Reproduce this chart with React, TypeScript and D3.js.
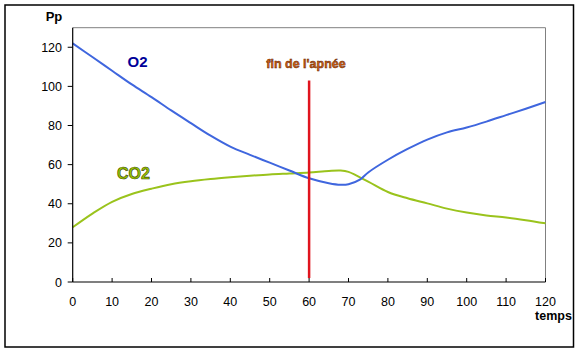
import React from "react";
import * as d3 from "d3";

const timeO2 = [0, 5, 10, 15, 20, 25, 30, 35, 40, 45, 50, 55, 60, 65, 68, 70, 73, 75, 80, 85, 90, 95, 100, 105, 110, 115, 120];
const valuesO2 = [122, 115, 108, 101, 94.5, 87.7, 81.2, 74.8, 69.2, 65, 61, 57, 53, 50.5, 49.7, 50, 52.5, 56, 62.5, 68, 72.8, 76.5, 79, 82, 85.3, 88.6, 92];
const timeCO2 = [0, 5, 10, 15, 20, 25, 30, 35, 40, 45, 50, 55, 60, 65, 68, 70, 75, 80, 85, 90, 95, 100, 105, 110, 115, 120];
const valuesCO2 = [28, 35, 41, 45, 47.7, 50, 51.5, 52.6, 53.5, 54.3, 55, 55.5, 56, 56.8, 57, 56.3, 51.3, 46, 42.8, 40.2, 37.5, 35.5, 34, 33, 31.6, 30];
const xTicks = [0, 10, 20, 30, 40, 50, 60, 70, 80, 90, 100, 110, 120];
const yTicks = [0, 20, 40, 60, 80, 100, 120];
const apneaEnd = 60;
const apneaLine = [2, 103];

export default function App() {
  const W = 581, H = 353;
  const left = 72.7, right = 545.5, top = 27.7, bottom = 282;
  const x = d3.scaleLinear().domain([0, 120]).range([left, right]);
  const y = d3.scaleLinear().domain([0, 130]).range([bottom, top]);
  const line = d3.line<[number, number]>().x(d => x(d[0])).y(d => y(d[1])).curve(d3.curveCatmullRom.alpha(0.5));
  const o2 = line(timeO2.map((t, i) => [t, valuesO2[i]]));
  const co2 = line(timeCO2.map((t, i) => [t, valuesCO2[i]]));
  const font = "Arial, 'Liberation Sans', sans-serif";
  return (
    <svg width={W} height={H} style={{ position: "absolute", left: 0, top: 0 }} fontFamily={font}>
      <rect x={0} y={0} width={W} height={H} fill="#fff" />
      <rect x={5} y={5} width={568.5} height={342} fill="none" stroke="#000" strokeWidth={1.5} />
      <line x1={left} x2={right} y1={top} y2={top} stroke="#808080" strokeWidth={1} />
      <line x1={right} x2={right} y1={top} y2={bottom} stroke="#808080" strokeWidth={1} />
      <path d={co2 || ""} fill="none" stroke="#9AC31C" strokeWidth={2} />
      <path d={o2 || ""} fill="none" stroke="#3F66DE" strokeWidth={2} />
      <line x1={x(apneaEnd)} x2={x(apneaEnd)} y1={y(apneaLine[0])} y2={y(apneaLine[1])} stroke="#E0141E" strokeWidth={2.5} />
      <line x1={left} x2={left} y1={top} y2={bottom} stroke="#000" strokeWidth={1.2} />
      <line x1={left} x2={right} y1={bottom} y2={bottom} stroke="#000" strokeWidth={1.2} />
      {yTicks.map(v => (
        <g key={"y" + v}>
          <line x1={left - 5} x2={left} y1={y(v)} y2={y(v)} stroke="#000" strokeWidth={1} />
          <text x={62} y={y(v) + 4.5} textAnchor="end" fontSize={12.5} fill="#000">{v}</text>
        </g>
      ))}
      {xTicks.map(v => (
        <g key={"x" + v}>
          <line x1={x(v)} x2={x(v)} y1={bottom - 4} y2={bottom} stroke="#000" strokeWidth={1} />
          <text x={x(v)} y={305.5} textAnchor="middle" fontSize={12.5} fill="#000">{v}</text>
        </g>
      ))}
      <text x={54} y={21} textAnchor="middle" fontSize={13} fontWeight="bold" fill="#000">Pp</text>
      <text x={553.5} y={319.5} textAnchor="middle" fontSize={12.5} fontWeight="bold" fill="#000">temps</text>
      <text x={137.5} y={67} textAnchor="middle" fontSize={15} fontWeight="bold" fill="#000099">O2</text>
      <text x={133.5} y={179} textAnchor="middle" fontSize={16} fontWeight="bold" fill="#99C800" stroke="#3A4000" strokeWidth={0.6}>CO2</text>
      <text x={306} y={67.5} textAnchor="middle" fontSize={12.5} fontWeight="bold" fill="#D06010" stroke="#5A2000" strokeWidth={0.45}>fin de l'apnée</text>
    </svg>
  );
}
